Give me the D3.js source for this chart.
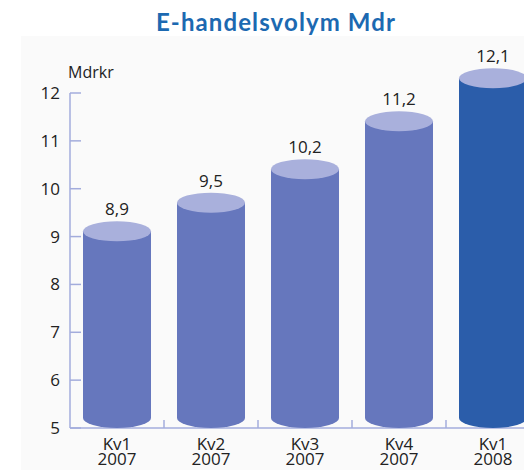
<!DOCTYPE html>
<html><head><meta charset="utf-8">
<script src="https://cdn.jsdelivr.net/npm/d3@7"></script>
<style>html,body{margin:0;padding:0;background:#fff;}svg{display:block;}</style>
</head><body>
<script>
const title = "E-handelsvolym Mdr";
const unitLabel = "Mdrkr";
const quarters = ["Kv1", "Kv2", "Kv3", "Kv4", "Kv1"];
const years = ["2007", "2007", "2007", "2007", "2008"];
const values = [8.9, 9.5, 10.2, 11.2, 12.1];
const valueLabels = ["8,9", "9,5", "10,2", "11,2", "12,1"];
const yTicks = [5, 6, 7, 8, 9, 10, 11, 12];

const W = 524, H = 470;
const svg = d3.select("body").append("svg").attr("width", W).attr("height", H);
const font = "'Open Sans', 'DejaVu Sans', sans-serif";

svg.append("rect").attr("x", 21).attr("y", 36).attr("width", W - 21).attr("height", H - 36).attr("fill", "#fafafa");

svg.append("text").attr("x", 276).attr("y", 31).attr("text-anchor", "middle")
  .attr("font-family", "Lato, sans-serif").attr("font-weight", "bold").attr("font-size", 24)
  .attr("letter-spacing", 1.1)
  .attr("fill", "#1c69b1").text(title);

const x0 = 70;
const x = d3.scaleBand().domain(d3.range(values.length)).range([x0, x0 + 94 * values.length]).padding(0);
const y = d3.scaleLinear().domain([5, 12]).range([428, 93]);
const axisColor = "#a3acdc";

// y axis
svg.append("line").attr("x1", x0).attr("x2", x0).attr("y1", y(12)).attr("y2", y(5)).attr("stroke", axisColor).attr("stroke-width", 1.5);
svg.selectAll(".yt").data(yTicks).enter().append("line")
  .attr("x1", x0).attr("x2", x0 + 11).attr("y1", d => y(d)).attr("y2", d => y(d))
  .attr("stroke", axisColor).attr("stroke-width", 1.5);
svg.selectAll(".yl").data(yTicks).enter().append("text")
  .attr("x", 60).attr("y", d => y(d) + 6).attr("text-anchor", "end")
  .attr("font-family", font).attr("font-size", 17).attr("fill", "#222").text(d => d);
svg.append("text").attr("x", 68).attr("y", 78).attr("font-family", font).attr("font-size", 16).attr("fill", "#222").text(unitLabel);

// x axis
svg.append("line").attr("x1", x0).attr("x2", W).attr("y1", y(5)).attr("y2", y(5)).attr("stroke", axisColor).attr("stroke-width", 1.5);
svg.selectAll(".xt").data(d3.range(1, values.length)).enter().append("line")
  .attr("x1", d => x(d)).attr("x2", d => x(d)).attr("y1", y(5)).attr("y2", y(5) - 8)
  .attr("stroke", axisColor).attr("stroke-width", 1.5);

// cylinders
const bw = 68, ry = 10;
const g = svg.selectAll(".bar").data(values).enter().append("g");
g.each(function(v, i) {
  const gg = d3.select(this);
  const cx = x(i) + x.bandwidth() / 2;
  const yb = y(5) - ry;          // bottom ellipse center
  const yt = y(v) - ry;          // top ellipse center
  const side = i === values.length - 1 ? "#2b5daa" : "#6677bd";
  const top = "#a9b0dc";
  gg.append("path")
    .attr("d", `M${cx - bw/2},${yt} L${cx - bw/2},${yb} A${bw/2},${ry} 0 0 0 ${cx + bw/2},${yb} L${cx + bw/2},${yt} Z`)
    .attr("fill", side);
  gg.append("ellipse").attr("cx", cx).attr("cy", yt).attr("rx", bw / 2).attr("ry", ry).attr("fill", top);
  gg.append("text").attr("x", cx).attr("y", yt - ry - 6).attr("text-anchor", "middle")
    .attr("font-family", font).attr("font-size", 17).attr("fill", "#222").text(valueLabels[i]);
  gg.append("text").attr("x", cx).attr("y", 450).attr("text-anchor", "middle")
    .attr("font-family", font).attr("font-size", 17).attr("fill", "#222").text(quarters[i]);
  gg.append("text").attr("x", cx).attr("y", 465).attr("text-anchor", "middle")
    .attr("font-family", font).attr("font-size", 17).attr("fill", "#222").text(years[i]);
});
</script>
</body></html>
